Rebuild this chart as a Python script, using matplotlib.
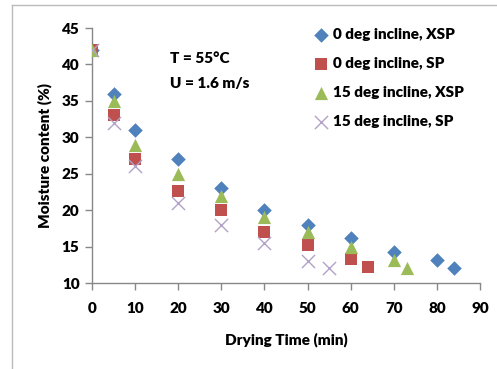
import matplotlib
matplotlib.use("Agg")
import matplotlib.pyplot as plt
from matplotlib.lines import Line2D

plt.rcParams['font.family'] = ['Lato', 'DejaVu Sans']
plt.rcParams['font.weight'] = 'heavy'

t_xsp0 = [0, 5, 10, 20, 30, 40, 50, 60, 70, 80, 84]
m_xsp0 = [42, 36, 31, 27, 23, 20, 18, 16.2, 14.2, 13.2, 12.1]
t_sp0 = [0, 5, 10, 20, 30, 40, 50, 60, 64]
m_sp0 = [42, 33, 27, 22.7, 20, 17, 15.2, 13.3, 12.2]
t_xsp15 = [0, 5, 10, 20, 30, 40, 50, 60, 70, 73]
m_xsp15 = [42, 35, 29, 25, 22, 19, 17, 15, 13.2, 12.1]
t_sp15 = [0, 5, 10, 20, 30, 40, 50, 55]
m_sp15 = [42, 32, 26, 21, 18, 15.5, 13, 12.1]

labels = ["0 deg incline, XSP", "0 deg incline, SP", "15 deg incline, XSP", "15 deg incline, SP"]
xticks = list(range(0, 91, 10))
yticks = list(range(10, 46, 5))

FS = 11
W = 'heavy'

fig = plt.figure(figsize=(4.97, 3.69), dpi=100)
ax = fig.add_axes([0.185, 0.233, 0.781, 0.691])

ax.scatter(t_xsp0, m_xsp0, marker='D', s=55, color='#4F81BD', label=labels[0], zorder=3, linewidths=0)
ax.scatter(t_sp0, m_sp0, marker='s', s=85, color='#C0504D', label=labels[1], zorder=3, linewidths=0)
ax.scatter(t_xsp15, m_xsp15, marker='^', s=90, color='#9BBB59', label=labels[2], zorder=4, linewidths=0)
ax.scatter(t_sp15, m_sp15, marker='x', s=90, color='#B3A2C7', label=labels[3], zorder=5, linewidths=1.0)

ax.set_xlim(0, 90)
ax.set_ylim(10, 45)
ax.set_xticks(xticks)
ax.set_yticks(yticks)
for s in ['top', 'right']:
    ax.spines[s].set_visible(False)
for s in ['left', 'bottom']:
    ax.spines[s].set_color('#888888')
    ax.spines[s].set_linewidth(1.0)
ax.tick_params(axis='both', colors='#888888', labelcolor='black', labelsize=FS, length=5, width=1.0, direction='out')
ax.tick_params(axis='x', pad=9)
ax.tick_params(axis='y', pad=4)
for lab in ax.get_xticklabels() + ax.get_yticklabels():
    lab.set_fontweight(W)

ax.set_xlabel("Drying Time (min)", fontsize=FS, fontweight=W, labelpad=12)
ax.set_ylabel("Moisture content (%)", fontsize=FS, fontweight=W, labelpad=7)

ax.text(0.201, 0.882, "T = 55°C", transform=ax.transAxes, fontsize=FS, fontweight=W, va='center')
ax.text(0.201, 0.784, "U = 1.6 m/s", transform=ax.transAxes, fontsize=FS, fontweight=W, va='center')

leg = ax.legend(loc='upper left', bbox_to_anchor=(0.55, 1.025), frameon=False, fontsize=FS,
                handletextpad=0.2, labelspacing=1.05, handlelength=1.2, borderaxespad=0)
for t in leg.get_texts():
    t.set_fontweight(W)

fig.add_artist(Line2D([12/497, 12/497], [0, 1 - 5/369], color='#BBBBBB', lw=1.0))
fig.add_artist(Line2D([12/497, 1], [1 - 5/369, 1 - 5/369], color='#BBBBBB', lw=1.0))

fig.savefig("out.png", dpi=100)
